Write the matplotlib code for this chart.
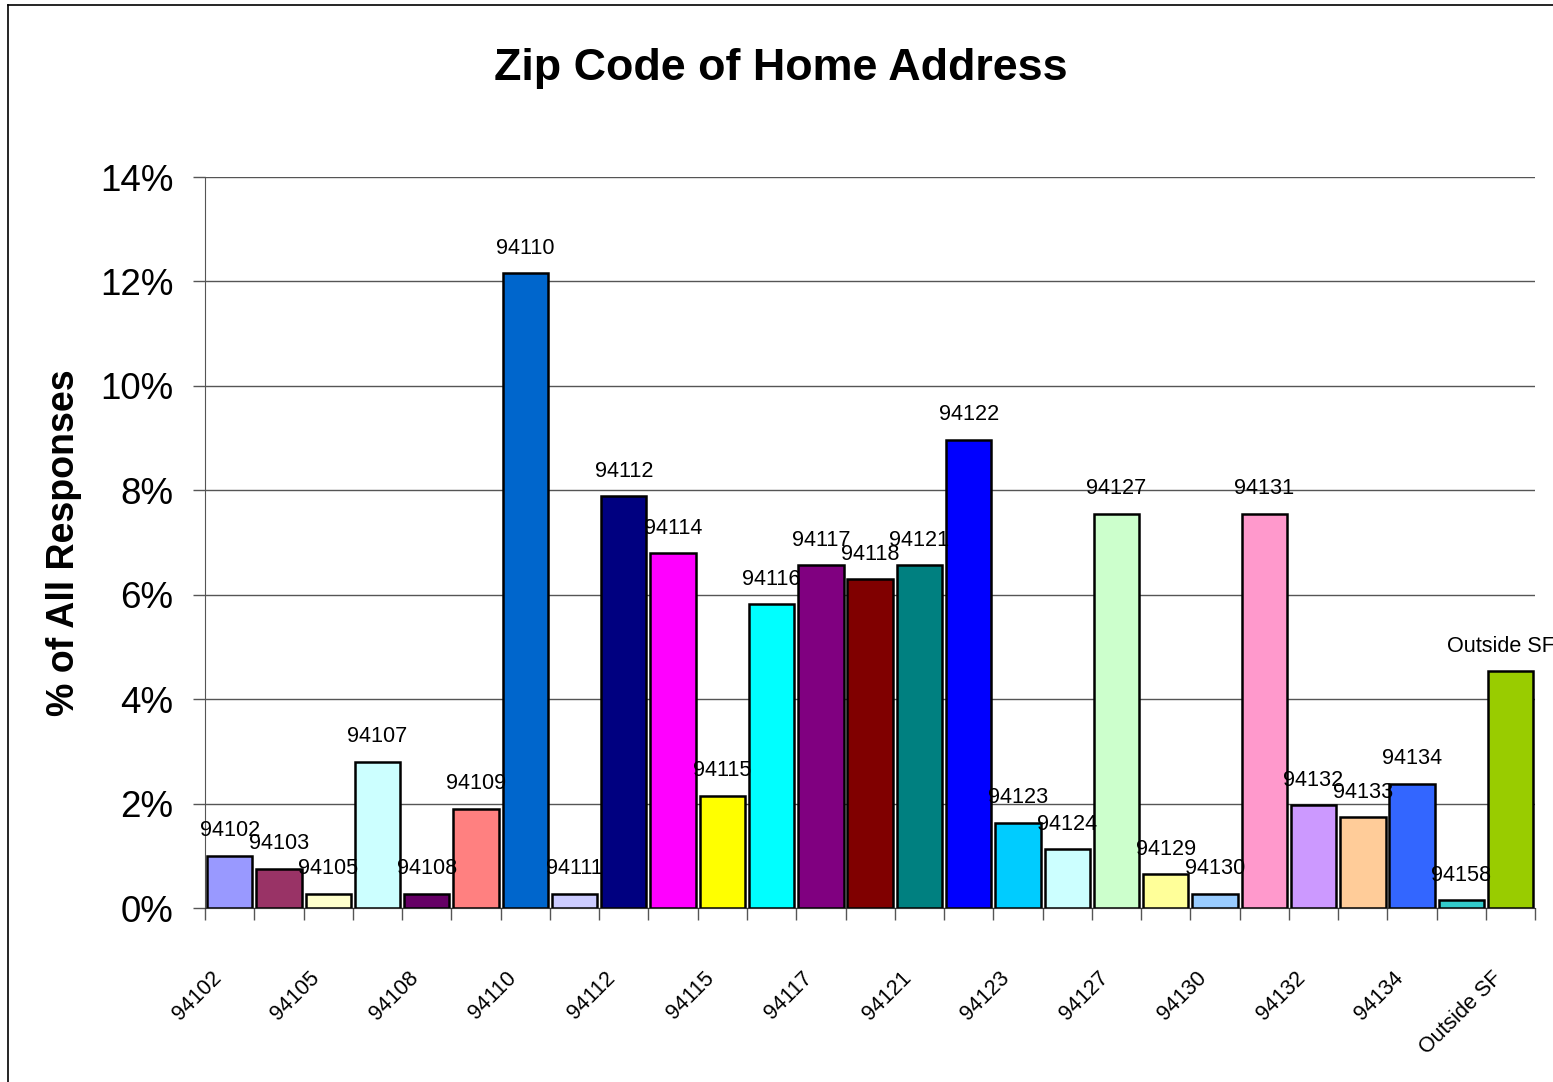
import numpy as np
import matplotlib
matplotlib.use("Agg")
import matplotlib.pyplot as plt
import matplotlib.transforms as mtransforms
from matplotlib.lines import Line2D

plt.rcParams['font.family'] = ['Liberation Sans', 'DejaVu Sans']

# data
zips = ['94102', '94103', '94105', '94107', '94108', '94109', '94110', '94111',
        '94112', '94114', '94115', '94116', '94117', '94118', '94121', '94122',
        '94123', '94124', '94127', '94129', '94130', '94131', '94132', '94133',
        '94134', '94158', 'Outside SF']
pct = [1.00, 0.75, 0.27, 2.80, 0.27, 1.90, 12.16, 0.27,
       7.89, 6.80, 2.15, 5.82, 6.57, 6.30, 6.57, 8.97,
       1.63, 1.13, 7.55, 0.65, 0.27, 7.55, 1.97, 1.74,
       2.38, 0.15, 4.54]
colors = ['#9999FF', '#993366', '#FFFFCC', '#CCFFFF', '#660066', '#FF8080',
          '#0066CC', '#CCCCFF', '#000080', '#FF00FF', '#FFFF00', '#00FFFF',
          '#800080', '#800000', '#008080', '#0000FF', '#00CCFF', '#CCFFFF',
          '#CCFFCC', '#FFFF99', '#99CCFF', '#FF99CC', '#CC99FF', '#FFCC99',
          '#3366FF', '#33CCCC', '#99CC00']

fig = plt.figure(figsize=(15.53, 10.82), dpi=100)
ax = fig.add_axes([0.132, 0.1608, 0.8566, 0.6756])

x = np.arange(len(zips))
ax.bar(x, pct, width=0.92, color=colors, edgecolor='black', linewidth=1.8, zorder=3)

# data labels above the bars
for i, (lab, v) in enumerate(zip(zips, pct)):
    dx = -10 if lab == 'Outside SF' else 0
    ax.annotate(lab, (i, v), xytext=(dx * 0.72, 14), textcoords='offset points',
                ha='center', va='baseline', fontsize=15.6, zorder=4)

ax.set_xlim(-0.5, len(zips) - 0.5)
ax.set_ylim(0, 14)
ax.set_yticks(np.arange(0, 15, 2))
ax.set_yticklabels([f'{v}%' for v in range(0, 15, 2)], fontsize=26.5)
ax.yaxis.grid(True, color='#555555', linewidth=1.0, zorder=0)
ax.tick_params(axis='y', length=8.6, width=1, color='#555555', pad=14)

# every other category labelled, ticks at category boundaries
ax.set_xticks(x[::2])
ax.set_xticklabels(zips[::2], rotation=45, ha='right', rotation_mode='anchor',
                   fontsize=15.5)
ax.tick_params(axis='x', which='major', length=0, pad=43)
shift = mtransforms.ScaledTranslation(-0.19, 0, fig.dpi_scale_trans)
for t in ax.get_xticklabels():
    t.set_transform(t.get_transform() + shift)
ax.set_xticks(np.arange(-0.5, len(zips), 1), minor=True)
ax.tick_params(axis='x', which='minor', length=8.6, width=1, color='#555555')

for s in ['top', 'right']:
    ax.spines[s].set_visible(False)
ax.spines['left'].set_color('#555555')
ax.spines['bottom'].set_color('#333333')
ax.spines['bottom'].set_zorder(5)

ax.set_ylabel('% of All Responses', fontsize=27, fontweight='bold', labelpad=13)
fig.text(0.503, 0.937, 'Zip Code of Home Address', ha='center', va='center',
         fontsize=32.3, fontweight='bold')

# outer chart border (left and top edges visible in the reference)
fig.add_artist(Line2D([0.005, 0.005], [0.0, 0.9954], transform=fig.transFigure,
                      color='black', linewidth=1.2))
fig.add_artist(Line2D([0.005, 1.0], [0.9954, 0.9954], transform=fig.transFigure,
                      color='black', linewidth=1.2))

fig.savefig('out.png', dpi=100)
